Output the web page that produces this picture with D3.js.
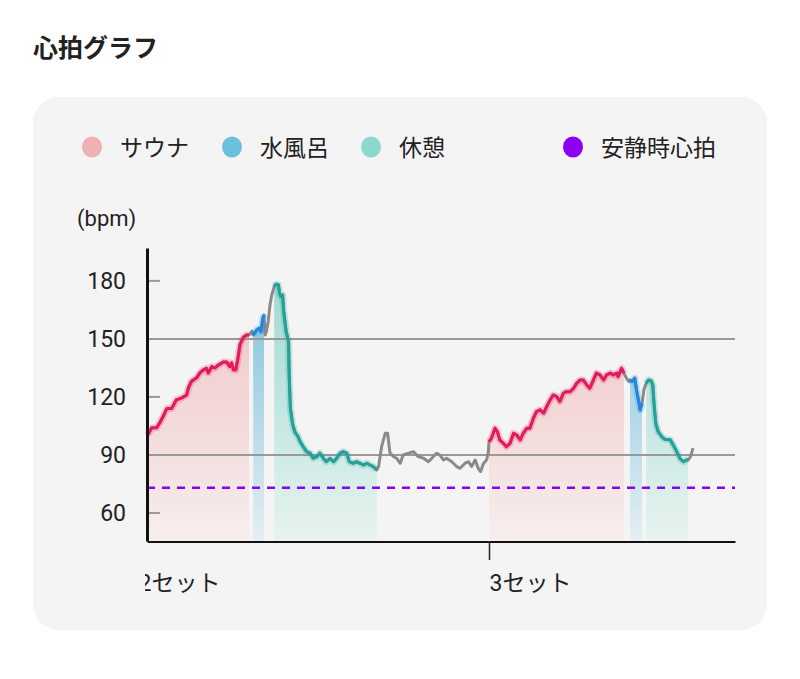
<!DOCTYPE html>
<html>
<head>
<meta charset="utf-8">
<script src="https://cdn.jsdelivr.net/npm/d3@7"></script>
<style>
  body { margin: 0; background: #fff; }
  text { font-family: Roboto, "Noto Sans CJK JP", sans-serif; fill: #222; }
</style>
</head>
<body>
<div id="chart"></div>
<script>
// heart rate samples: [minutes, bpm]
var heartRate = [
  [0.1,100.3],[0.8,104],[1.6,104],[2.2,107],[2.7,110],[3.3,114],[4.1,114],[4.9,118.5],
  [5.8,119.5],[6.6,121],[6.9,124.7],[7.4,128],[8.3,130],[8.8,132.4],[9.4,134],[9.9,134.8],
  [10.2,132.4],[10.8,135.7],[11.3,135],[11.9,136.5],[12.7,138],[13.3,138],[13.8,135.7],
  [14.1,137.6],[14.4,134],[14.8,134],[15.1,139],[15.5,147],[16.1,151],[16.6,152],[17.0,152],
  [17.2,152.6],[17.5,154],
  [17.7,152],[18.3,154.7],[18.7,155.5],[19.0,153.8],[19.3,160.7],[19.5,162.4],
  [19.7,152],[19.9,153.8],[20.2,159],[20.5,167.6],[20.8,172.8],[21.1,176],
  [21.2,177],[21.5,178.3],[21.9,178],[22.1,173.6],[22.3,171.9],[22.6,172.8],[22.8,164],
  [23.2,153.8],[23.6,148.6],[23.7,131.4],[23.9,114],[24.3,105.5],[24.7,101.5],[25.1,100],
  [25.5,97],[26.0,94.5],[26.6,91.7],[27.2,90.9],[27.7,88.3],[28.3,89.1],[28.8,90.9],
  [29.4,88.3],[29.9,86.5],[30.5,88.3],[31.1,86.5],[31.6,88.3],[32.2,90.9],[32.7,91.7],
  [33.3,90.9],[33.7,86.5],[34.4,85.7],[34.9,86.5],[35.5,85.7],[36.1,84.8],[36.6,85.7],
  [37.2,84.8],[37.7,84],[38.3,82.2],
  [38.6,84],[39.1,94.3],[39.7,101.2],[40.1,101.2],[40.5,90.9],[41.1,89.1],[41.6,88.3],
  [42.2,85.7],[42.7,90],[43.6,90.9],[44.4,91.7],[45.2,89.1],[46.1,88.3],[46.9,86.5],
  [47.7,89.1],[48.3,90.9],[48.8,90],[49.4,87.4],[49.9,88.3],[50.8,86.5],[51.6,84],
  [52.2,83.1],[53.0,85.7],[53.6,86.5],[54.1,84],[54.7,87.4],[55.2,83.1],[55.6,81.4],
  [56.1,85.7],[56.6,87.4],[56.9,91.7],
  [57.0,96.9],[57.4,98.6],[58.0,103.8],[58.4,102],[58.8,97.8],[59.4,96],[59.9,94.3],
  [60.5,96],[61.1,101.2],[61.6,100.3],[62.2,97.8],[62.7,101.2],[63.3,103.8],[63.8,103.8],
  [64.4,109],[64.9,112.4],[65.5,113.3],[66.1,111.6],[66.6,115],[67.2,118.5],[67.7,121],
  [68.3,120.2],[68.8,117.6],[69.4,121.9],[69.9,122.7],[70.5,122.7],[71.1,124.5],
  [71.6,127],[72.2,128.8],[72.7,128.8],[73.3,126.2],[73.8,124.5],[74.4,128.8],
  [74.9,132.3],[75.5,131.4],[76.1,128.8],[76.6,131.4],[77.2,132.3],[77.7,131.4],
  [78.3,132.3],[78.5,130.5],[79.1,134.8],[79.5,132.3],
  [79.9,129.7],[80.3,128],
  [80.5,128.8],[80.9,128],[81.3,129.7],[81.6,123.6],[81.9,118.5],[82.2,113.3],[82.5,116.7],
  [82.7,121],[82.8,123.6],
  [83.2,127],[83.6,128.8],[84.0,128.4],[84.3,126.2],[84.5,116.7],[84.8,106.4],[85.2,102],
  [85.8,99.5],[86.3,98.1],[87.2,97.8],[87.7,95.2],[88.3,91.7],[88.8,88.3],[89.4,86.5],
  [89.9,87.4],[90.2,87.4],
  [90.6,89.1],[91.0,93.5]
];

// phases: [type, start, end] in minutes
var phases = [
  ["sauna", 0, 17.0], ["water", 17.7, 19.5], ["rest", 21.2, 38.3],
  ["sauna", 57.0, 79.5], ["water", 80.5, 82.5], ["rest", 83.2, 90.2]
];

var legendNames = ["サウナ", "水風呂", "休憩", "安静時心拍"];
var legendColors = ["#efb1b1", "#6cbfdd", "#8bd8cf", "#8b00f0"];
var setTicks = [-1.5, 57];
var setLabels = ["2セット", "3セット"];
var yTicks = [60, 90, 120, 150, 180];
var gridValues = [90, 150];
var restingHR = 73;

var lineColor = { sauna: "#e8195a", water: "#1e88e5", rest: "#1fa39a" };
var fillTop = { sauna: "#f0c2c2", water: "#80c0dc", rest: "#9edbd2" };
var fillBottom = { sauna: "#f7eeee", water: "#e4eff3", rest: "#e8f3f0" };

var W = 800, H = 679;
var svg = d3.select("#chart").append("svg")
  .attr("width", W).attr("height", H);

var x = d3.scaleLinear().domain([0, 98]).range([147, 735]);
var y = d3.scaleLinear().domain([45.5, 197]).range([541, 248]);

var defs = svg.append("defs");
["sauna", "water", "rest"].forEach(function (k) {
  var g = defs.append("linearGradient")
    .attr("id", "grad_" + k)
    .attr("gradientUnits", "userSpaceOnUse")
    .attr("x1", 0).attr("x2", 0)
    .attr("y1", y(180)).attr("y2", y(45.5));
  g.append("stop").attr("offset", 0).attr("stop-color", fillTop[k]);
  g.append("stop").attr("offset", 1).attr("stop-color", fillBottom[k]);
});
defs.append("clipPath").attr("id", "xclip")
  .append("rect").attr("x", 145).attr("y", 0).attr("width", 700).attr("height", H);

// title + card
svg.append("text").attr("x", 33).attr("y", 57)
  .style("font-size", "25px").style("font-weight", "bold")
  .style("font-family", "'Noto Sans CJK JP', sans-serif")
  .text("心拍グラフ");

svg.append("rect")
  .attr("x", 33).attr("y", 97).attr("width", 734).attr("height", 533)
  .attr("rx", 26).attr("fill", "#f5f4f4");

// legend
var legendX = [92, 232, 371, 573];
var legend = svg.selectAll(".legend").data(legendNames).enter().append("g")
  .attr("transform", function (d, i) { return "translate(" + legendX[i] + ",147)"; });
legend.append("ellipse").attr("rx", 10).attr("ry", 10.5)
  .attr("fill", function (d, i) { return legendColors[i]; });
legend.append("text").attr("x", 28).attr("y", 8.5)
  .style("font-size", "23px")
  .style("font-family", "'Noto Sans CJK JP', sans-serif")
  .text(function (d) { return d; });

// fills per phase
var area = d3.area()
  .x(function (d) { return x(d[0]); })
  .y0(y(45.5))
  .y1(function (d) { return y(d[1]); });

function inPhase(p) {
  return heartRate.filter(function (d) { return d[0] >= p[1] && d[0] <= p[2]; });
}

svg.selectAll(".phase_fill").data(phases).enter().append("path")
  .attr("d", function (p) { return area(inPhase(p)); })
  .attr("fill", function (p) { return "url(#grad_" + p[0] + ")"; });

// y ticks + gridlines
svg.selectAll(".ytick").data(yTicks).enter().append("line")
  .attr("x1", x(0)).attr("x2", function (d) { return gridValues.indexOf(d) >= 0 ? 735 : x(0) + 13; })
  .attr("y1", function (d) { return y(d); }).attr("y2", function (d) { return y(d); })
  .attr("stroke", "#999").attr("stroke-width", 2);

// resting heart rate
svg.append("line")
  .attr("x1", x(0)).attr("x2", 735)
  .attr("y1", y(restingHR)).attr("y2", y(restingHR))
  .attr("stroke", "#8b00f0").attr("stroke-width", 2.5)
  .attr("stroke-dasharray", "8,7");

// heart rate line: gray base, coloured over phases
var line = d3.line()
  .x(function (d) { return x(d[0]); })
  .y(function (d) { return y(d[1]); });

svg.append("path").attr("d", line(heartRate))
  .attr("fill", "none").attr("stroke", "#8a8a8a").attr("stroke-width", 3)
  .attr("stroke-linejoin", "round");

phases.forEach(function (p) {
  var pts = inPhase(p);
  svg.append("path").attr("d", line(pts))
    .attr("fill", "none").attr("stroke", lineColor[p[0]]).attr("stroke-width", 7)
    .attr("stroke-opacity", 0.22).attr("stroke-linejoin", "round");
  svg.append("path").attr("d", line(pts))
    .attr("fill", "none").attr("stroke", lineColor[p[0]]).attr("stroke-width", 3)
    .attr("stroke-linejoin", "round");
});

// y axis
var yAxis = svg.append("g").attr("transform", "translate(" + x(0) + ",0)")
  .call(d3.axisLeft(y).tickValues(yTicks).tickSize(0).tickPadding(21));
yAxis.select(".domain").attr("stroke", "#111").attr("stroke-width", 3);
yAxis.selectAll("text").style("font-size", "23px").attr("fill", "#222")
  .style("font-family", "Roboto, sans-serif");

svg.append("text").attr("x", 77).attr("y", 226)
  .style("font-size", "22px").text("(bpm)");

// x axis
var xAxis = svg.append("g").attr("transform", "translate(0," + y(45.5) + ")")
  .attr("clip-path", "url(#xclip)")
  .call(d3.axisBottom(x).tickValues(setTicks).tickSize(19).tickSizeOuter(0)
    .tickFormat(function (d, i) { return setLabels[i]; }));
xAxis.select(".domain").attr("stroke", "#111").attr("stroke-width", 3);
xAxis.selectAll(".tick line").attr("y1", -21).attr("stroke", "#222").attr("stroke-width", 1.5);
xAxis.selectAll(".tick text")
  .attr("text-anchor", "start").attr("y", 50).attr("dy", 0)
  .style("font-size", "23px").attr("fill", "#222")
  .style("font-family", "Roboto, 'Noto Sans CJK JP', sans-serif");
</script>
</body>
</html>
